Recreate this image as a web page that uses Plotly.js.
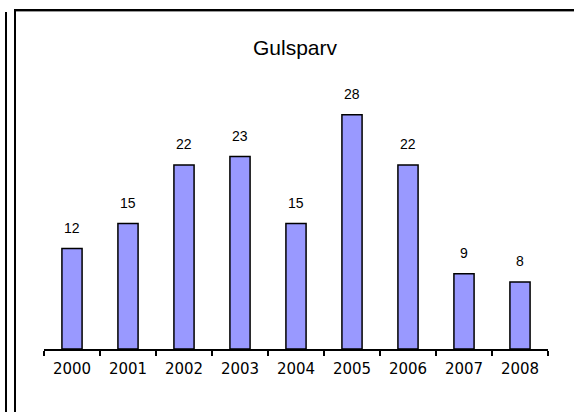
<!DOCTYPE html>
<html>
<head>
<meta charset="utf-8">
<script src="https://cdn.plot.ly/plotly-3.0.1.min.js"></script>
<style>
  html, body { margin: 0; padding: 0; background: #fff; }
  #wrap { position: relative; width: 574px; height: 412px; overflow: hidden; }
  #chart { position: absolute; left: 0; top: 0; width: 574px; height: 412px; }
  #frame { position: absolute; left: 14px; top: 9px; width: 600px; height: 450px;
           border-top: 2px solid #000; border-left: 2px solid #000; box-sizing: border-box; pointer-events: none; }
  #frameShadow { position: absolute; left: 16px; top: 11px; width: 600px; height: 1px; background: #999; pointer-events: none; }
  #outer { position: absolute; left: 5px; top: 12px; width: 2px; height: 420px; background: #000; pointer-events: none; }
</style>
</head>
<body>
<div id="wrap">
  <div id="chart"></div>
  <div id="frame"></div>
  <div id="frameShadow"></div>
  <div id="outer"></div>
</div>
<script>
var years = ["2000", "2001", "2002", "2003", "2004", "2005", "2006", "2007", "2008"];
var counts = [12, 15, 22, 23, 15, 28, 22, 9, 8];
var chartTitle = "Gulsparv";

var fontFam = "Liberation Sans, Arial, sans-serif";
var tickFam = "DejaVu Sans, sans-serif";

var trace = {
  type: "bar",
  x: years,
  y: counts,
  width: 0.36,
  marker: { color: "#9999FF", line: { color: "#000000", width: 1.5 } },
  hoverinfo: "none"
};

var annotations = years.map(function (yr, i) {
  return {
    x: i, y: counts[i], xref: "x", yref: "y",
    text: String(counts[i]), showarrow: false,
    yanchor: "bottom", xanchor: "center", yshift: 11,
    font: { family: fontFam, size: 14, color: "#000" }
  };
});

var layout = {
  width: 574, height: 412,
  margin: { l: 44, r: 26, t: 98, b: 63 },
  paper_bgcolor: "#fff", plot_bgcolor: "#fff",
  showlegend: false,
  title: {
    text: chartTitle,
    x: 295 / 574, xanchor: "center", xref: "container",
    y: 1 - 48 / 412, yanchor: "middle", yref: "container",
    font: { family: fontFam, size: 21, color: "#000" }
  },
  xaxis: {
    type: "category",
    range: [-0.5, 8.5],
    showline: true, linecolor: "#000", linewidth: 1.5,
    ticks: "outside", tickson: "boundaries", ticklen: 5, tickwidth: 1.5, tickcolor: "#000",
    ticklabelstandoff: 5,
    showgrid: false, zeroline: false,
    tickfont: { family: tickFam, size: 15, color: "#000" },
    fixedrange: true
  },
  yaxis: {
    range: [0, 30],
    visible: false, showgrid: false, zeroline: false, fixedrange: true
  },
  annotations: annotations,
  bargap: 0.64
};

Plotly.newPlot("chart", [trace], layout, { staticPlot: true, displayModeBar: false });
</script>
</body>
</html>
